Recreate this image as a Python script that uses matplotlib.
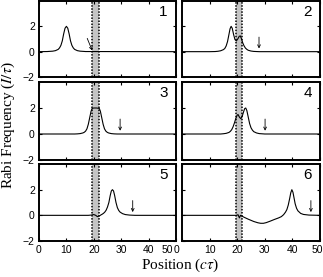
import numpy as np
import matplotlib.pyplot as plt
import matplotlib.transforms as mtransforms

plt.rcParams['mathtext.fontset'] = 'stix'

# data (position in c*tau, Rabi frequency in 1/tau)
x1 = [0, 3, 5, 6, 7, 7.5, 8, 8.5, 9, 9.5, 10, 10.5, 11, 11.5, 12, 12.5, 13, 14, 15, 17, 50]
y1 = [0, 0.01, 0.04, 0.08, 0.18, 0.3, 0.5, 0.85, 1.4, 1.85, 2.0, 1.85, 1.4, 0.85, 0.5, 0.3, 0.18, 0.08, 0.04, 0.01, 0]

x2 = [0, 10, 12, 13, 14, 15, 15.5, 16, 16.5, 17, 17.4, 17.8, 18.2, 18.7, 19.2, 19.7, 20.2, 20.7, 21.1, 21.5,
      22, 22.5, 23, 23.5, 24, 25, 26, 28, 50]
y2 = [0, 0, 0.01, 0.03, 0.07, 0.16, 0.25, 0.45, 0.8, 1.35, 1.8, 2.0, 1.85, 1.35, 0.95, 0.85, 1.0, 1.2, 1.25, 1.05,
      0.7, 0.45, 0.28, 0.18, 0.11, 0.05, 0.02, 0.0, 0]

x3 = [0, 13, 14, 15, 16, 16.5, 17, 17.5, 18, 18.5, 19, 19.4, 20, 21, 22, 22.4, 22.9, 23.4, 23.9, 24.4, 24.9,
      25.4, 26.4, 27.4, 28.5, 50]
y3 = [0, 0, 0.01, 0.03, 0.08, 0.13, 0.22, 0.4, 0.75, 1.25, 1.75, 1.97, 2.0, 2.0, 1.97, 1.75, 1.25, 0.75, 0.4,
      0.22, 0.13, 0.08, 0.03, 0.01, 0, 0]

x4 = [0, 14, 15, 16, 17, 17.5, 18, 18.5, 19, 19.5, 20, 20.3, 20.8, 21.3, 21.8, 22.3, 22.7, 23.1, 23.5, 24,
      24.5, 25, 25.5, 26, 27, 28, 30, 50]
y4 = [0, 0, 0.02, 0.05, 0.12, 0.2, 0.33, 0.55, 0.85, 1.2, 1.45, 1.5, 1.3, 1.18, 1.35, 1.7, 1.95, 2.0, 1.8, 1.3,
      0.8, 0.48, 0.3, 0.18, 0.08, 0.03, 0, 0]

x5 = [0, 18, 19, 20, 20.7, 21.3, 22, 22.5, 23, 23.5, 24, 24.5, 25, 25.5, 26, 26.4, 26.8, 27.2, 27.6, 28.1,
      28.6, 29.1, 29.6, 30.5, 31.5, 33, 35, 50]
y5 = [0, 0, 0.02, 0.06, 0.0, -0.1, -0.05, 0.02, 0.08, 0.15, 0.25, 0.4, 0.65, 1.0, 1.55, 1.9, 2.0, 1.9, 1.55, 1.0,
      0.6, 0.38, 0.25, 0.13, 0.06, 0.02, 0, 0]

x6 = [0, 19.8, 20.3, 20.8, 21.2, 21.6, 22.5, 24, 26, 27.5, 28.5, 29.5, 30.5, 32, 33.5, 35, 36, 36.8, 37.5, 38,
      38.5, 39, 39.4, 39.8, 40.2, 40.6, 41, 41.5, 42, 43, 44, 46, 50]
y6 = [0, 0, 0.05, -0.2, 0.0, -0.05, -0.15, -0.3, -0.48, -0.58, -0.62, -0.62, -0.57, -0.45, -0.32, -0.2, -0.1,
      0.05, 0.25, 0.45, 0.8, 1.3, 1.75, 2.0, 1.8, 1.35, 0.9, 0.55, 0.35, 0.15, 0.07, 0.02, 0]

curves = [(x1, y1), (x2, y2), (x3, y3), (x4, y4), (x5, y5), (x6, y6)]
arrow_x = [17.6, 27.9, 29.6, 30.1, 34.2, 46.7]
labels = ['1', '2', '3', '4', '5', '6']
band = (19.5, 21.8)

fig = plt.figure(figsize=(3.23, 2.77), dpi=100)
W, H = 323, 277
cols = [(39, 137), (182, 138)]
rows = [(1, 77), (82, 160), (164, 241)]

tickfont = 'Liberation Sans'
for i, (x, y) in enumerate(curves):
    r, c = i // 2, i % 2
    left, w = cols[c]
    top, bot = rows[r]
    ax = fig.add_axes([left / W, 1 - bot / H, w / W, (bot - top) / H])
    ax.axvspan(band[0], band[1], color='#c4c4c4', lw=0)
    ax.axvline(band[0], color='k', ls=(0, (1, 1)), lw=1.1)
    ax.axvline(band[1], color='k', ls=(0, (1, 1)), lw=1.1)
    ax.plot(x, y, color='k', lw=0.8)
    ax.set_xlim(0, 50)
    ax.set_ylim(-2, 4)
    ax.set_xticks([0, 10, 20, 30, 40, 50])
    ax.set_yticks([-2, 0, 2])
    ax.tick_params(direction='in', length=2.5, width=0.8, top=True, right=True,
                   labelsize=7.5, pad=3)
    for s in ax.spines.values():
        s.set_linewidth(1.4)
    if c == 1:
        ax.set_yticklabels([])
    else:
        for t in ax.get_yticklabels():
            t.set_fontfamily(tickfont)
    if r < 2:
        ax.set_xticklabels([])
    else:
        tls = ax.get_xticklabels()
        for t in tls:
            t.set_fontfamily(tickfont)
        # nudge the crowded labels at the column join, as in the original
        if c == 0:
            shift = -9
            idx = -1
        else:
            shift = -5
            idx = 0
        tls[idx].set_transform(tls[idx].get_transform() +
                               mtransforms.ScaledTranslation(shift / 100, 0, fig.dpi_scale_trans))
        if c == 1:
            tls[-1].set_transform(tls[-1].get_transform() +
                                  mtransforms.ScaledTranslation(-3 / 100, 0, fig.dpi_scale_trans))
    ax.text(47.0, 3.15, labels[i], fontsize=11, family=tickfont, ha='right', va='center')
    ax_ = arrow_x[i]
    if i == 0:
        ax.annotate('', xy=(19.4, 0.1), xytext=(ax_, 1.05),
                    arrowprops=dict(arrowstyle='->', lw=0.6, color='k',
                                    shrinkA=0, shrinkB=0, mutation_scale=5))
    else:
        ax.annotate('', xy=(ax_, 0.25), xytext=(ax_, 1.15),
                    arrowprops=dict(arrowstyle='->', lw=0.6, color='k',
                                    shrinkA=0, shrinkB=0, mutation_scale=5))

fig.text(8 / W, 1 - 125 / H, 'Rabi Frequency ($I/\\tau$)', rotation=90, ha='center', va='center',
         fontsize=11, family='Liberation Serif')
fig.text(180 / W, 1 - 265 / H, 'Position ($c\\tau$)', ha='center', va='center',
         fontsize=11, family='Liberation Serif')

fig.savefig('out.png', dpi=100)
